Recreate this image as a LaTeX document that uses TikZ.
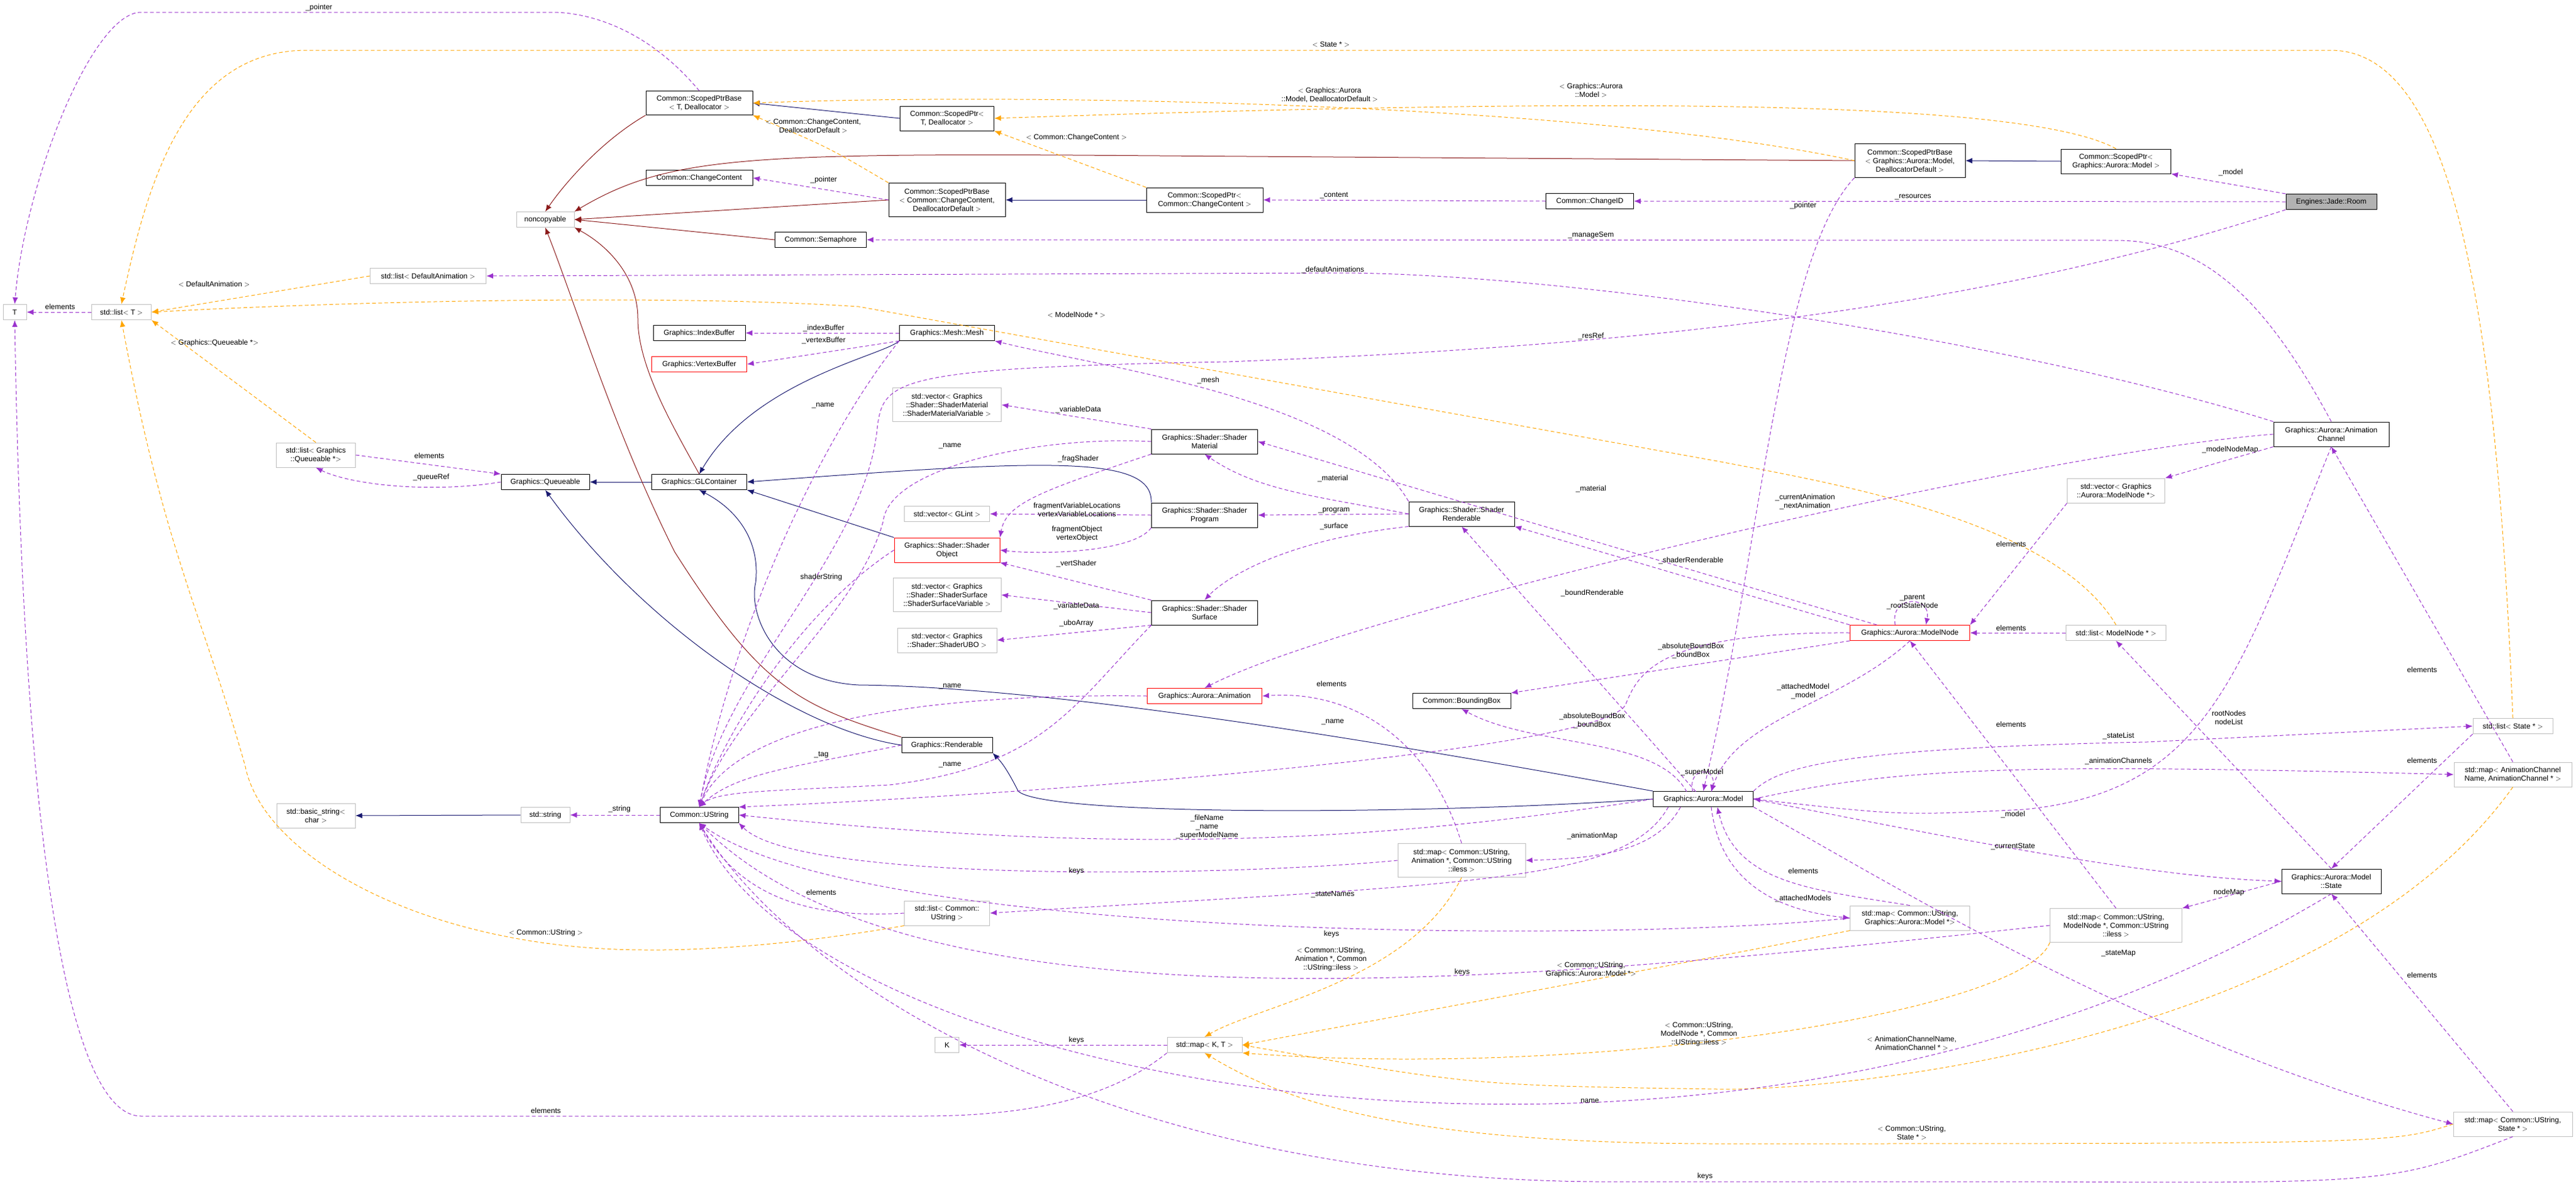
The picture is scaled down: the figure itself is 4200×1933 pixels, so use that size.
\documentclass[tikz,border=0pt]{standalone}
\usepackage{fontspec}
\setmainfont{Liberation Sans}
\usetikzlibrary{arrows.meta}
\definecolor{pu}{HTML}{9A32CD}
\definecolor{orn}{HTML}{FFA500}
\definecolor{nv}{HTML}{191970}
\definecolor{dr}{HTML}{8B1A1A}
\tikzset{
 box/.style={draw=black,line width=1pt,fill=white,inner sep=1pt,minimum height=25pt,align=center,font=\fontsize{12}{14}\selectfont},
 ext/.style={box,draw=black!25,line width=1pt},
 redb/.style={box,draw=red},
 lbl/.style={inner sep=0pt,align=center,font=\fontsize{12}{14}\selectfont},
 tip/.style={-{Latex[length=11pt,width=9pt]}},
 use/.style={tip,draw=pu,dashed,line width=1pt,dash pattern=on 6pt off 4pt},
 tpl/.style={tip,draw=orn,dashed,line width=1pt,dash pattern=on 6pt off 4pt},
 inh/.style={tip,draw=nv,line width=1pt},
 ncp/.style={tip,draw=dr,line width=1pt},
}
\begin{document}
\begin{tikzpicture}[x=1pt,y=-1pt]
\useasboundingbox (0,0) rectangle (4200,1933);
% nodes
\node[ext,minimum width=38pt] (T) at (24,509) {T};
\node[ext,minimum width=97pt] (lT) at (198,509) {std::list$<$ T $>$};
\node[box,minimum width=174pt,minimum height=39pt] (spb1) at (1140,168) {Common::ScopedPtrBase\\$<$ T, Deallocator $>$};
\node[ext,minimum width=94pt] (nc) at (889,358) {noncopyable};
\node[box,minimum width=174pt] (cc) at (1140,290) {Common::ChangeContent};
\node[box,minimum width=149pt] (sem) at (1338,391) {Common::Semaphore};
\node[ext,minimum width=189pt] (lda) at (698,450) {std::list$<$ DefaultAnimation $>$};
\node[box,minimum width=150pt] (ib) at (1140,543) {Graphics::IndexBuffer};
\node[redb,minimum width=155pt] (vb) at (1140,594) {Graphics::VertexBuffer};
\node[ext,minimum width=129pt,minimum height=40pt] (lq) at (515,742) {std::list$<$ Graphics\\::Queueable *$>$};
\node[box,minimum width=144pt] (que) at (889,786) {Graphics::Queueable};
\node[box,minimum width=155pt] (glc) at (1140,786) {Graphics::GLContainer};
\node[box,minimum width=153pt,minimum height=40pt] (sp1) at (1544,193) {Common::ScopedPtr$<$\\T, Deallocator $>$};
\node[box,minimum width=190pt,minimum height=55pt] (spbcc) at (1544,326) {Common::ScopedPtrBase\\$<$ Common::ChangeContent,\\DeallocatorDefault $>$};
\node[box,minimum width=190pt,minimum height=40pt] (spcc) at (1964,326) {Common::ScopedPtr$<$\\Common::ChangeContent $>$};
\node[box,minimum width=143pt] (chid) at (2592,328) {Common::ChangeID};
\node[box,minimum width=155pt] (mesh) at (1544,543) {Graphics::Mesh::Mesh};
\node[ext,minimum width=177pt,minimum height=55pt] (vsmv) at (1544,660) {std::vector$<$ Graphics\\::Shader::ShaderMaterial\\::ShaderMaterialVariable $>$};
\node[box,minimum width=173pt,minimum height=40pt] (smat) at (1964,720) {Graphics::Shader::Shader\\Material};
\node[ext,minimum width=139pt] (vgl) at (1544,838) {std::vector$<$ GLint $>$};
\node[box,minimum width=173pt,minimum height=40pt] (sprog) at (1964,840) {Graphics::Shader::Shader\\Program};
\node[box,minimum width=172pt,minimum height=40pt] (shren) at (2383,838) {Graphics::Shader::Shader\\Renderable};
\node[redb,minimum width=172pt,minimum height=40pt] (sobj) at (1544,897) {Graphics::Shader::Shader\\Object};
\node[box,minimum width=180pt,minimum height=55pt] (spbm) at (3114,262) {Common::ScopedPtrBase\\$<$ Graphics::Aurora::Model,\\DeallocatorDefault $>$};
\node[box,minimum width=179pt,minimum height=40pt] (spm) at (3450,263) {Common::ScopedPtr$<$\\Graphics::Aurora::Model $>$};
\node[box,fill=black!30,minimum width=148pt] (room) at (3801,329) {Engines::Jade::Room};
\node[box,minimum width=188pt,minimum height=40pt] (ach) at (3801,708) {Graphics::Aurora::Animation\\Channel};
\node[ext,minimum width=159pt,minimum height=40pt] (vmn) at (3450,800) {std::vector$<$ Graphics\\::Aurora::ModelNode *$>$};
\node[ext,minimum width=176pt,minimum height=55pt] (vssv) at (1544,970) {std::vector$<$ Graphics\\::Shader::ShaderSurface\\::ShaderSurfaceVariable $>$};
\node[ext,minimum width=162pt,minimum height=40pt] (vubo) at (1544,1044) {std::vector$<$ Graphics\\::Shader::ShaderUBO $>$};
\node[box,minimum width=173pt,minimum height=40pt] (ssurf) at (1964,999) {Graphics::Shader::Shader\\Surface};
\node[redb,minimum width=187pt] (anim) at (1964,1135) {Graphics::Aurora::Animation};
\node[box,minimum width=160pt] (bbox) at (2383,1143) {Common::BoundingBox};
\node[box,minimum width=148pt] (rend) at (1544,1215) {Graphics::Renderable};
\node[box,minimum width=163pt] (model) at (2777,1303) {Graphics::Aurora::Model};
\node[ext,minimum width=208pt,minimum height=55pt] (mua) at (2383,1403) {std::map$<$ Common::UString,\\Animation *, Common::UString\\::iless $>$};
\node[ext,minimum width=139pt,minimum height=40pt] (lus) at (1544,1489) {std::list$<$ Common::\\UString $>$};
\node[ext,minimum width=39pt] (K) at (1544,1704) {K};
\node[ext,minimum width=122pt] (mkt) at (1964,1704) {std::map$<$ K, T $>$};
\node[ext,minimum width=128pt,minimum height=40pt] (bs) at (515,1330) {std::basic\_string$<$\\char $>$};
\node[ext,minimum width=80pt] (str) at (889,1329) {std::string};
\node[box,minimum width=128pt] (us) at (1140,1329) {Common::UString};
\node[redb,minimum width=195pt] (mn) at (3114,1032) {Graphics::Aurora::ModelNode};
\node[ext,minimum width=163pt] (lmn) at (3450,1032) {std::list$<$ ModelNode * $>$};
\node[ext,minimum width=130pt] (lst) at (4097,1184) {std::list$<$ State * $>$};
\node[ext,minimum width=192pt,minimum height=40pt] (macn) at (4097,1263) {std::map$<$ AnimationChannel\\Name, AnimationChannel * $>$};
\node[box,minimum width=162pt,minimum height=40pt] (state) at (3801,1437) {Graphics::Aurora::Model\\::State};
\node[ext,minimum width=195pt,minimum height=40pt] (mum) at (3114,1497) {std::map$<$ Common::UString,\\Graphics::Aurora::Model *$>$};
\node[ext,minimum width=215pt,minimum height=55pt] (mumn) at (3450,1509) {std::map$<$ Common::UString,\\ModelNode *, Common::UString\\::iless $>$};
\node[ext,minimum width=194pt,minimum height=40pt] (mus) at (4097,1833) {std::map$<$ Common::UString,\\State * $>$};

% inheritance
\draw[inh] (sp1.west) -- (spb1.east);
\draw[inh] (spcc.west) -- (spbcc.east);
\draw[inh] (spm.west) -- (spbm.east);
\draw[inh] (glc.west) -- (que.east);
\draw[inh] (str.west) -- (bs.east);
\draw[inh] (mesh.south west) .. controls (1440,580) and (1230,620) .. (glc.north);
\draw[inh] (sprog.north west) .. controls (1880,740) and (1700,750) .. (glc.east);
\draw[inh] (sobj.north west) -- (glc.south east);
\draw[inh] (rend.west) .. controls (1300,1190) and (1050,1020) .. (que.south);
\draw[inh] (model.west) .. controls (2300,1330) and (1700,1330) .. (1660,1290) .. controls (1640,1250) and (1630,1240) .. (rend.south east);
\draw[inh] (model.north west) .. controls (2200,1200) and (1700,1120) .. (1400,1117) .. controls (1260,1110) and (1220,1000) .. (1232,950) .. controls (1240,880) and (1200,830) .. (glc.south);
% noncopyable
\draw[ncp] (spb1.south west) .. controls (980,230) and (920,300) .. (nc.north);
\draw[ncp] (spbm.west) -- (1750,253) .. controls (1200,250) and (1080,260) .. (nc.north east);
\draw[ncp] (spbcc.west) -- (nc.east);
\draw[ncp] (sem.west) -- (nc.east);
\draw[ncp] (glc.north) .. controls (1100,700) and (1040,600) .. (1040,520) .. controls (1040,450) and (990,400) .. (nc.south east);
\draw[ncp] (rend.north west) .. controls (1300,1150) and (1240,1120) .. (1100,900) .. controls (1000,700) and (940,500) .. (nc.south);
% templates
\draw[tpl] (spbm.west) .. controls (2600,170) and (1700,150) .. (spb1.east);
\draw[tpl] (spm.north) .. controls (3300,160) and (2600,160) .. (sp1.east);
\draw[tpl] (spbcc.north west) .. controls (1350,240) .. (spb1.south east);
\draw[tpl] (spcc.north west) -- (sp1.south east);
\draw[tpl] (lst.north) .. controls (4070,500) and (4000,82) .. (3800,82) -- (500,82) .. controls (300,82) and (240,300) .. (lT.north);
\draw[tpl] (lda.west) -- (lT.east);
\draw[tpl] (lq.north) -- (lT.south east);
\draw[tpl] (lmn.north) .. controls (3350,850) and (3000,790) .. (2800,752) -- (1400,500) .. controls (1100,480) and (600,490) .. (lT.east);
\draw[tpl] (lus.south west) .. controls (1300,1540) and (1150,1550) .. (1054,1549) .. controls (700,1549) and (430,1400) .. (400,1250) .. controls (330,1000) and (268,900) .. (lT.south);
\draw[tpl] (mua.south) .. controls (2300,1600) and (2050,1640) .. (mkt.north);
\draw[tpl] (mum.south west) .. controls (2800,1560) .. (mkt.east);
\draw[tpl] (mumn.south west) .. controls (3300,1650) and (2600,1760) .. (mkt.south east);
\draw[tpl] (macn.south) .. controls (3800,1700) and (3000,1780) .. (2800,1776) .. controls (2400,1770) .. (mkt.east);
\draw[tpl] (mus.west) .. controls (3900,1865) .. (2800,1865) .. controls (2300,1865) and (2100,1800) .. (mkt.south);
% usage
\draw[use] (room.north west) -- (spm.south east);
\draw[use] (room.west) -- (chid.east);
\draw[use] (room.south west) .. controls (3300,480) and (2800,560) .. (2000,590) .. controls (1450,600) and (1440,620) .. (1430,700) .. controls (1410,900) and (1180,1100) .. (us.north);
\draw[use] (chid.west) -- (spcc.east);
\draw[use] (spbcc.west) -- (cc.east);
\draw[use] (spb1.north) .. controls (1050,40) and (950,20) .. (900,20) -- (230,20) .. controls (150,20) and (40,300) .. (T.north);
\draw[use] (spbm.south west) .. controls (2900,420) and (2870,900) .. (model.north);
\draw[use] (ach.north) .. controls (3700,500) and (3600,392) .. (3450,392) -- (sem.east);
\draw[use] (ach.north west) .. controls (3300,560) and (2600,450) .. (2200,445) -- (lda.east);
\draw[use] (ach.south west) -- (vmn.north east);
\draw[use] (ach.west) .. controls (3300,740) and (2200,1000) .. (anim.north);
\draw[use] (ach.south) .. controls (3650,1100) and (3600,1290) .. (3300,1320) .. controls (3100,1330) .. (model.east);
\draw[use] (macn.north) -- (ach.south);
\draw[use] (lst.south west) -- (state.north);
\draw[use] (mus.north) -- (state.south);
\draw[use] (lmn.west) -- (mn.east);
\draw[use] (mumn.north) -- (mn.south);
\draw[use] (vmn.south west) -- (mn.north east);
\draw[use] (3090,1019) .. controls (3080,970) and (3150,970) .. (3140,1019);
\draw[use] (mn.north west) -- (shren.south east);
\draw[use] (3060,1019) -- (smat.east);
\draw[use] (mn.south west) -- (bbox.north east);
\draw[use] (mn.south) .. controls (3000,1150) and (2830,1170) .. (2790,1291);
\draw[use] (mn.west) .. controls (2700,1030) and (2670,1100) .. (2650,1150) .. controls (2600,1230) and (1600,1300) .. (us.north east);
\draw[use] (2760,1291) .. controls (2750,1250) and (2800,1250) .. (2790,1291);
\draw[use] (2765,1291) -- (shren.south);
\draw[use] (2750,1291) .. controls (2700,1200) and (2500,1220) .. (bbox.south);
\draw[use] (model.north east) .. controls (2900,1250) and (3000,1220) .. (3500,1210) -- (lst.west);
\draw[use] (model.east) .. controls (3100,1250) and (3300,1245) .. (macn.west);
\draw[use] (model.east) .. controls (3200,1370) and (3500,1430) .. (state.west);
\draw[use] (model.south east) .. controls (3100,1450) and (3500,1700) .. (mus.west);
\draw[use] (2790,1316) .. controls (2800,1400) and (2850,1480) .. (mum.west);
\draw[use] (mum.north) .. controls (2950,1450) and (2830,1440) .. (2800,1316);
\draw[use] (2740,1316) .. controls (2700,1390) and (2600,1400) .. (mua.east);
\draw[use] (2720,1316) .. controls (2650,1440) and (2400,1440) .. (lus.east);
\draw[use] (model.west) .. controls (2200,1380) and (1800,1390) .. (us.east);
\draw[use] (mua.north) .. controls (2330,1200) and (2200,1125) .. (anim.east);
\draw[use] (mua.west) .. controls (2000,1430) and (1300,1440) .. (us.south east);
\draw[use] (lus.west) .. controls (1300,1500) and (1200,1450) .. (us.south);
\draw[use] (mum.west) .. controls (2600,1540) and (1400,1530) .. (us.south);
\draw[use] (mumn.west) .. controls (2500,1600) and (1500,1700) .. (us.south);
\draw[use] (mkt.west) -- (K.east);
\draw[use] (mkt.south west) .. controls (1800,1800) and (1650,1820) .. (1500,1820) -- (230,1820) .. controls (130,1820) and (40,1500) .. (T.south);
\draw[use] (state.west) -- (mumn.north east);
\draw[use] (state.north) -- (lmn.south);
\draw[use] (state.south) .. controls (3400,1700) and (2900,1810) .. (2400,1800) .. controls (1800,1790) and (1250,1600) .. (us.south);
\draw[use] (mus.south) .. controls (3900,1930) .. (3300,1927) -- (2600,1927) .. controls (1800,1920) and (1300,1600) .. (us.south);
\draw[use] (shren.north west) .. controls (2200,650) and (1800,600) .. (mesh.south east);
\draw[use] (shren.west) .. controls (2150,810) and (2050,800) .. (smat.south);
\draw[use] (shren.west) -- (sprog.east);
\draw[use] (shren.south west) .. controls (2100,880) and (2000,940) .. (ssurf.north);
\draw[use] (smat.north west) -- (vsmv.east);
\draw[use] (smat.west) .. controls (1700,710) and (1450,760) .. (1440,850) .. controls (1400,1000) and (1200,1150) .. (us.north);
\draw[use] (smat.south west) .. controls (1700,800) and (1640,820) .. (sobj.north east);
\draw[use] (sprog.west) -- (vgl.east);
\draw[use] (sprog.south west) .. controls (1850,900) and (1700,905) .. (sobj.east);
\draw[use] (ssurf.north west) -- (sobj.south east);
\draw[use] (ssurf.west) -- (vssv.east);
\draw[use] (ssurf.south west) -- (vubo.east);
\draw[use] (ssurf.south west) .. controls (1750,1150) and (1700,1250) .. (1450,1280) .. controls (1250,1290) and (1170,1290) .. (us.north);
\draw[use] (anim.west) .. controls (1500,1130) and (1200,1180) .. (us.north);
\draw[use] (rend.west) .. controls (1300,1250) and (1200,1260) .. (us.north);
\draw[use] (sobj.west) .. controls (1300,1000) and (1180,1200) .. (us.north);
\draw[use] (mesh.west) -- (ib.east);
\draw[use] (mesh.south west) -- (vb.east);
\draw[use] (mesh.south west) .. controls (1350,700) and (1200,1000) .. (us.north);
\draw[use] (que.west) .. controls (700,805) and (570,790) .. (lq.south);
\draw[use] (lq.east) -- (que.north west);
\draw[use] (lT.west) -- (T.east);
\draw[use] (us.west) -- (str.east);
% labels
\node[lbl] (a1) at (520,12) {\_pointer};
\node[lbl] (a2) at (2170,72) {$<$ State * $>$};
\node[lbl] (a3) at (2168,155) {$<$ Graphics::Aurora\\::Model, DeallocatorDefault $>$};
\node[lbl] (a4) at (2594,147) {$<$ Graphics::Aurora\\::Model $>$};
\node[lbl] (a5) at (1326,205) {$<$ Common::ChangeContent,\\DeallocatorDefault $>$};
\node[lbl] (a6) at (1755,224) {$<$ Common::ChangeContent $>$};
\node[lbl] (a7) at (1343,293) {\_pointer};
\node[lbl] (a8) at (2175,319) {\_content};
\node[lbl] (a9) at (3119,321) {\_resources};
\node[lbl] (a10) at (2940,335) {\_pointer};
\node[lbl] (a11) at (3637,281) {\_model};
\node[lbl] (a12) at (2594,384) {\_manageSem};
\node[lbl] (a13) at (2173,440) {\_defaultAnimations};
\node[lbl] (a14) at (349,463) {$<$ DefaultAnimation $>$};
\node[lbl] (a15) at (98,500) {elements};
\node[lbl] (a16) at (1755,513) {$<$ ModelNode * $>$};
\node[lbl] (a17) at (2594,548) {\_resRef};
\node[lbl] (a18) at (1343,535) {\_indexBuffer};
\node[lbl] (a19) at (1343,555) {\_vertexBuffer};
\node[lbl] (a20) at (350,559) {$<$ Graphics::Queueable *$>$};
\node[lbl] (a21) at (1970,620) {\_mesh};
\node[lbl] (a22) at (1342,661) {\_name};
\node[lbl] (a23) at (1758,668) {\_variableData};
\node[lbl] (a24) at (1549,727) {\_name};
\node[lbl] (a25) at (1758,748) {\_fragShader};
\node[lbl] (a26) at (700,743) {elements};
\node[lbl] (a27) at (703,778) {\_queueRef};
\node[lbl] (a28) at (2173,780) {\_material};
\node[lbl] (a29) at (2594,797) {\_material};
\node[lbl] (a30) at (3636,733) {\_modelNodeMap};
\node[lbl] (a31) at (2943,818) {\_currentAnimation\\\_nextAnimation};
\node[lbl] (a32) at (1756,831) {fragmentVariableLocations\\vertexVariableLocations};
\node[lbl] (a33) at (1756,870) {fragmentObject\\vertexObject};
\node[lbl] (a34) at (2175,833) {\_program};
\node[lbl] (a35) at (2175,858) {\_surface};
\node[lbl] (a36) at (3279,887) {elements};
\node[lbl] (a37) at (2757,914) {\_shaderRenderable};
\node[lbl] (a38) at (1755,919) {\_vertShader};
\node[lbl] (a39) at (1339,941) {shaderString};
\node[lbl] (a40) at (2596,967) {\_boundRenderable};
\node[lbl] (a41) at (3118,982) {\_parent\\\_rootStateNode};
\node[lbl] (a42) at (1755,988) {\_variableData};
\node[lbl] (a43) at (1755,1016) {\_uboArray};
\node[lbl] (a44) at (3279,1024) {elements};
\node[lbl] (a45) at (2757,1061) {\_absoluteBoundBox\\\_boundBox};
\node[lbl] (a46) at (3949,1092) {elements};
\node[lbl] (a47) at (2171,1115) {elements};
\node[lbl] (a48) at (1549,1119) {\_name};
\node[lbl] (a49) at (2940,1127) {\_attachedModel\\\_model};
\node[lbl] (a50) at (3634,1170) {rootNodes\\nodeList};
\node[lbl] (a51) at (2596,1175) {\_absoluteBoundBox\\\_boundBox};
\node[lbl] (a52) at (2173,1177) {\_name};
\node[lbl] (a53) at (3279,1181) {elements};
\node[lbl] (a54) at (3454,1200) {\_stateList};
\node[lbl] (a55) at (1339,1231) {\_tag};
\node[lbl] (a56) at (3949,1240) {elements};
\node[lbl] (a57) at (3454,1241) {\_animationChannels};
\node[lbl] (a58) at (1549,1247) {\_name};
\node[lbl] (a59) at (2775,1259) {\_superModel};
\node[lbl] (a60) at (1010,1319) {\_string};
\node[lbl] (a61) at (3282,1328) {\_model};
\node[lbl] (a62) at (1968,1348) {\_fileName\\\_name\\\_superModelName};
\node[lbl] (a63) at (2596,1363) {\_animationMap};
\node[lbl] (a64) at (3282,1380) {\_currentState};
\node[lbl] (a65) at (2940,1420) {elements};
\node[lbl] (a66) at (1755,1420) {keys};
\node[lbl] (a67) at (3634,1455) {nodeMap};
\node[lbl] (a68) at (1339,1455) {elements};
\node[lbl] (a69) at (2173,1459) {\_stateNames};
\node[lbl] (a70) at (2940,1465) {\_attachedModels};
\node[lbl] (a71) at (890,1521) {$<$ Common::UString $>$};
\node[lbl] (a72) at (2171,1523) {keys};
\node[lbl] (a73) at (3454,1555) {\_stateMap};
\node[lbl] (a74) at (2170,1564) {$<$ Common::UString,\\Animation *, Common\\::UString::iless $>$};
\node[lbl] (a75) at (2594,1581) {$<$ Common::UString,\\Graphics::Aurora::Model *$>$};
\node[lbl] (a76) at (2384,1585) {keys};
\node[lbl] (a77) at (3949,1590) {elements};
\node[lbl] (a78) at (2770,1686) {$<$ Common::UString,\\ModelNode *, Common\\::UString::iless $>$};
\node[lbl] (a79) at (1755,1696) {keys};
\node[lbl] (a80) at (3117,1701) {$<$ AnimationChannelName,\\AnimationChannel * $>$};
\node[lbl] (a81) at (2592,1795) {name};
\node[lbl] (a82) at (890,1811) {elements};
\node[lbl] (a83) at (3117,1847) {$<$ Common::UString,\\State * $>$};
\node[lbl] (a84) at (2780,1918) {keys};
\end{tikzpicture}
\end{document}
